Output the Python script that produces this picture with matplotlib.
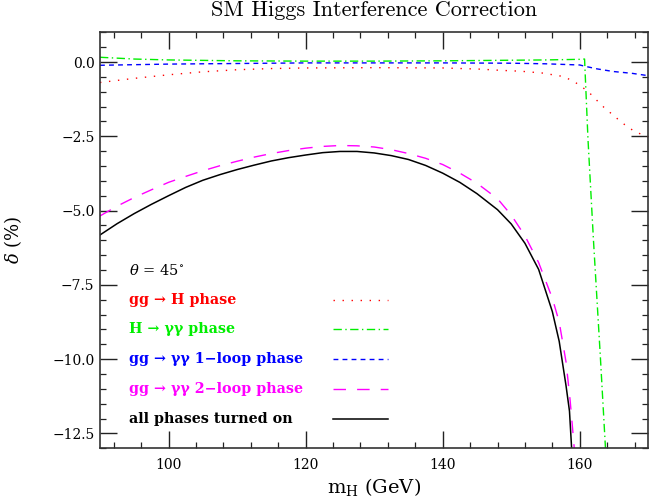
import numpy as np
import matplotlib
matplotlib.use('Agg')
import matplotlib.pyplot as plt
from matplotlib.ticker import MultipleLocator, FuncFormatter

plt.rcParams['font.family'] = ['DejaVu Serif']
plt.rcParams['mathtext.fontset'] = 'dejavuserif'

# gg -> H phase (red, dotted)
mh_ggh = [90, 95, 100, 105, 110, 115, 120, 130, 140, 145.5, 148.4, 151.4, 154.5,
          157.4, 158.9, 160.1, 161.3, 162.4, 163.5, 165.8, 167.0, 168.2, 170]
d_ggh = [-0.69, -0.55, -0.43, -0.33, -0.26, -0.22, -0.20, -0.19, -0.20, -0.24, -0.28, -0.31, -0.37,
         -0.48, -0.62, -0.80, -1.01, -1.27, -1.52, -1.97, -2.19, -2.36, -2.52]

# H -> gamma gamma phase (green, dash-dot)
mh_hgg = [90, 95, 100, 110, 120, 130, 140, 150, 155, 160, 160.7, 161.2, 162, 163, 163.8]
d_hgg = [0.16, 0.10, 0.07, 0.04, 0.03, 0.03, 0.04, 0.06, 0.07, 0.09, 0.10, -2.6, -6.0, -9.9, -13.2]

# gg -> gamma gamma 1-loop phase (blue, short dash)
mh_1loop = [90, 95, 100, 110, 120, 130, 140, 150, 155, 160, 160.7, 162.5, 164.9, 167.6, 170]
d_1loop = [-0.11, -0.09, -0.07, -0.05, -0.03, -0.03, -0.03, -0.04, -0.06, -0.10, -0.14,
           -0.23, -0.32, -0.38, -0.46]

# gg -> gamma gamma 2-loop phase (magenta, long dash)
mh_2loop = [90, 92.5, 95, 97.5, 100, 102.5, 105, 107.5, 110, 112.5, 115, 117.5, 120, 122.5,
            125, 127.5, 130, 132.5, 135, 137.5, 140, 142.5, 145, 148, 150, 152,
            154, 156, 157, 158, 158.6, 159.1, 159.3]
d_2loop = [-5.18, -4.85, -4.56, -4.30, -4.05, -3.85, -3.66, -3.49, -3.34, -3.20, -3.08, -2.98,
           -2.90, -2.84, -2.81, -2.82, -2.86, -2.95, -3.08, -3.24, -3.45, -3.74, -4.08, -4.60,
           -5.15, -5.85, -6.75, -7.95, -8.75, -10.1, -11.4, -12.73, -13.3]

# all phases turned on (black, solid)
mh_all = [90, 92.5, 95, 97.5, 100, 102.5, 105, 107.5, 110, 112.5, 115, 117.5, 120, 122.5,
          125, 127.5, 130, 132.5, 135, 137.5, 140, 142.5, 145, 148, 150, 152,
          154, 156, 157, 158, 158.5, 158.8, 159.0]
d_all = [-5.82, -5.44, -5.10, -4.79, -4.50, -4.22, -3.98, -3.79, -3.62, -3.47, -3.33, -3.22,
         -3.13, -3.05, -3.01, -3.01, -3.06, -3.15, -3.28, -3.48, -3.74, -4.05, -4.43, -4.97,
         -5.45, -6.10, -6.98, -8.40, -9.40, -10.90, -11.75, -12.95, -13.5]

labels = ['gg \u2192 H phase',
          'H \u2192 \u03b3\u03b3 phase',
          'gg \u2192 \u03b3\u03b3 1\u2212loop phase',
          'gg \u2192 \u03b3\u03b3 2\u2212loop phase',
          'all phases turned on']
colors = ['#ff0000', '#00ee00', '#0000ff', '#ff00ff', '#000000']
dashes = [(1, 5.5), (6, 2.5, 1, 2.5), (3.5, 3), (9, 8), None]
series = [(mh_ggh, d_ggh), (mh_hgg, d_hgg), (mh_1loop, d_1loop),
          (mh_2loop, d_2loop), (mh_all, d_all)]


def draw_line(ax, x, y, c, d):
    # solid when no dash pattern is given
    if d is None:
        ax.plot(x, y, color=c, lw=1.1)
    else:
        ax.plot(x, y, color=c, lw=1.0, dashes=d)


fig = plt.figure(figsize=(6.49, 4.98), dpi=100)
ax = fig.add_axes([100 / 649, 1 - 448.3 / 498, 548.3 / 649, 416 / 498])

for (x, y), c, d in zip(series, colors, dashes):
    draw_line(ax, x, y, c, d)

# legend drawn by hand: text on the left, line sample on the right
ax.text(94.2, -7.0, r'$\theta$ = 45$^{\circ}$', fontsize=10.5, va='center', ha='left')
for i, (lab, c, d) in enumerate(zip(labels, colors, dashes)):
    yy = -8.0 - i
    ax.text(94.2, yy, lab, color=c, fontsize=10.3, fontweight='bold', va='center', ha='left')
    draw_line(ax, [124, 132], [yy, yy], c, d)

ax.set_xlim(90, 170)
ax.set_ylim(-13, 1)
ax.xaxis.set_major_locator(MultipleLocator(20))
ax.xaxis.set_minor_locator(MultipleLocator(4))
ax.yaxis.set_major_locator(MultipleLocator(2.5))
ax.yaxis.set_minor_locator(MultipleLocator(0.5))
ax.yaxis.set_major_formatter(FuncFormatter(lambda v, p: ('%.1f' % v).replace('-', '\u2212')))
ax.tick_params(which='both', direction='in', top=True, right=True, labelsize=10, color='#222222')
ax.tick_params(which='major', length=12, width=1.0)
ax.tick_params(which='minor', length=4.3, width=0.9)
ax.tick_params(axis='x', pad=7)
ax.tick_params(axis='y', pad=4)
for sp in ax.spines.values():
    sp.set_linewidth(1.2)
    sp.set_color('#333333')

fig.text(374 / 649, 1 - 16 / 498, 'SM Higgs Interference Correction', fontsize=16,
         family='cmr10', ha='center', va='baseline')
fig.text(374 / 649, 1 - 487 / 498, r'm$_\mathrm{H}$ (GeV)', fontsize=14, ha='center', va='center')
fig.text(13 / 649, 1 - 240 / 498, r'$\delta$ (%)', fontsize=13,
         ha='center', va='center', rotation=90)

fig.savefig('out.png', dpi=100)
